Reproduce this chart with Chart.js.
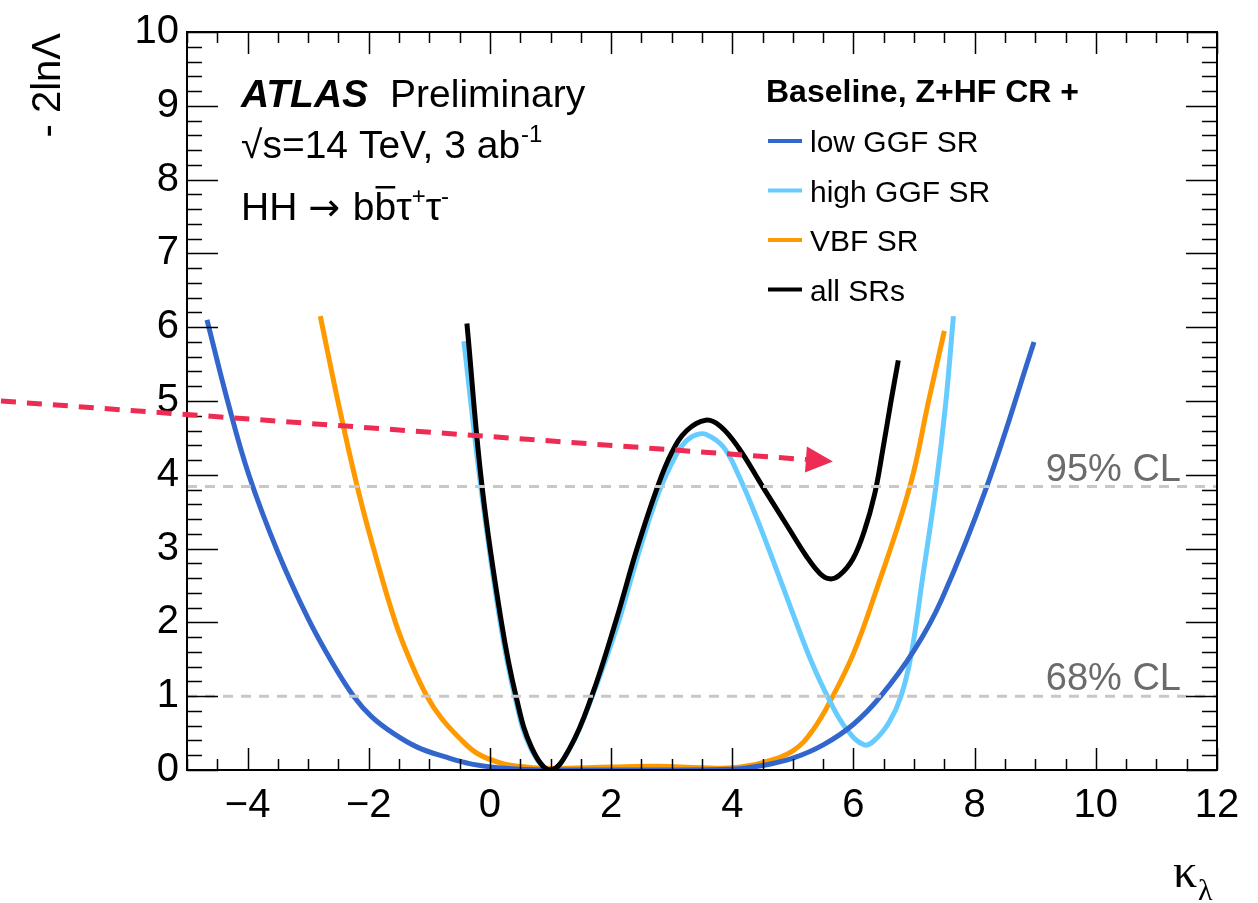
<!DOCTYPE html>
<html>
<head>
<meta charset="utf-8">
<script src="https://cdn.jsdelivr.net/npm/chart.js@4.4.0/dist/chart.umd.min.js"></script>
<style>
  html, body { margin: 0; padding: 0; background: #fff; }
  #wrap { width: 1258px; height: 903px; }
</style>
</head>
<body>
<div id="wrap"><canvas id="nllChart" width="1258" height="903"></canvas></div>
<script>
// kappa_lambda scan, -2 ln Lambda
const lowGgfK   = [-4.67, -4.33, -3.98, -3.5, -3.0, -2.6, -2.25, -1.95, -1.6, -1.2, -0.75, -0.3, 0.3, 1, 2, 3, 4, 4.5, 5, 5.5, 6.0, 6.45, 7.0, 7.45, 8.2, 8.98];
const lowGgfNll = [6.1, 5.0, 4.0, 2.95, 2.05, 1.45, 1.0, 0.72, 0.5, 0.31, 0.18, 0.08, 0.02, 0, 0, 0, 0.01, 0.06, 0.16, 0.34, 0.62, 1.0, 1.62, 2.3, 3.84, 5.8];

const highGgfK   = [-0.43, -0.15, 0.17, 0.41, 0.67, 1.0, 1.32, 1.69, 2.1, 2.44, 2.78, 3.08, 3.24, 3.4, 3.56, 3.85, 4.1, 4.4, 4.7, 5.0, 5.3, 5.6, 5.88, 6.18, 6.37, 6.59, 6.78, 6.95, 7.14, 7.36, 7.52, 7.65];
const highGgfNll = [5.81, 3.84, 2.0, 1.0, 0.3, 0, 0.3, 1.0, 1.95, 2.9, 3.75, 4.28, 4.46, 4.54, 4.55, 4.38, 4.0, 3.42, 2.78, 2.12, 1.48, 0.95, 0.56, 0.34, 0.42, 0.65, 0.99, 1.55, 2.6, 3.84, 4.95, 6.15];

const vbfK   = [-2.8, -2.51, -2.19, -1.92, -1.56, -1.3, -1.04, -0.8, -0.5, -0.2, 0.2, 0.6, 1, 2, 2.75, 3.5, 4, 4.5, 5, 5.33, 5.66, 6.0, 6.32, 6.93, 7.24, 7.5];
const vbfNll = [6.15, 5.0, 3.84, 3.0, 2.0, 1.45, 1.0, 0.7, 0.43, 0.22, 0.09, 0.04, 0.02, 0.04, 0.05, 0.03, 0.03, 0.1, 0.26, 0.54, 1.0, 1.58, 2.3, 3.84, 5.0, 5.95];

const allK   = [-0.38, -0.13, 0.19, 0.43, 0.69, 1.0, 1.32, 1.68, 2.09, 2.42, 2.75, 3.0, 3.25, 3.56, 3.8, 4.1, 4.5, 4.89, 5.22, 5.45, 5.61, 5.77, 5.99, 6.18, 6.35, 6.48, 6.62, 6.74];
const allNll = [6.05, 3.84, 2.0, 1.0, 0.3, 0, 0.3, 1.0, 2.05, 2.98, 3.8, 4.3, 4.6, 4.74, 4.66, 4.37, 3.84, 3.33, 2.9, 2.66, 2.59, 2.64, 2.86, 3.24, 3.74, 4.32, 5.0, 5.55];

const clLevels = [1, 3.84];
const clLabels = ['68% CL', '95% CL'];

const xTicks = [-4, -2, 0, 2, 4, 6, 8, 10, 12];
const yTicks = [0, 1, 2, 3, 4, 5, 6, 7, 8, 9, 10];

// red arrow in (kappa, -2lnL) units: start, tip
const arrowFrom = [-8.07, 5.0];
const arrowTo = [5.66, 4.18];

const SANS = '"Liberation Sans", Arial, Helvetica, sans-serif';
const SERIF = '"Liberation Serif", "DejaVu Serif", serif';

function pts(ks, vs) {
    return ks.map((k, i) => ({ x: k, y: vs[i] }));
}

function curve(label, ks, vs, color, order) {
    return {
        label: label,
        data: pts(ks, vs),
        borderColor: color,
        backgroundColor: color,
        borderWidth: 5,
        pointRadius: 0,
        fill: false,
        tension: 0.4,
        order: order
    };
}

const clSets = clLevels.map(lv => ({
    label: 'cl' + lv,
    data: [{ x: -5, y: lv }, { x: 12, y: lv }],
    borderColor: '#c8c8c8',
    borderWidth: 3,
    borderDash: [10, 8],
    pointRadius: 0,
    fill: false,
    order: 0,
    isCl: true
}));

// draws text pieces left to right, returns end x
function run(ctx, parts, x, y) {
    parts.forEach(p => {
        ctx.font = p.font;
        const dy = p.dy || 0;
        ctx.fillText(p.t, x, y + dy);
        const w = ctx.measureText(p.t).width;
        if (p.bar) {
            ctx.fillRect(x + 1, y - 34, w - 2, 2.5);
        }
        x += w + (p.gap || 0);
    });
    return x;
}

const atlasFrame = {
    id: 'atlasFrame',
    afterDatasetsDraw(chart) {
        const { ctx, chartArea: a, scales: { x, y } } = chart;
        ctx.save();

        // CL labels
        ctx.fillStyle = '#6b6b6b';
        ctx.font = '38px ' + SANS;
        ctx.textAlign = 'right';
        ctx.textBaseline = 'alphabetic';
        clLevels.forEach((lv, i) => {
            ctx.fillText(clLabels[i], 1181, y.getPixelForValue(lv) - 6);
        });

        // frame + inward ticks on all four sides
        ctx.strokeStyle = '#000';
        ctx.lineWidth = 2;
        ctx.strokeRect(a.left, a.top, a.right - a.left, a.bottom - a.top);
        ctx.lineWidth = 1.5;
        ctx.beginPath();
        for (let i = 0; i <= 34; i++) {
            const v = -5 + i * 0.5;
            const px = Math.round(x.getPixelForValue(v)) + 0.5;
            const len = (v % 2 === 0) ? 22 : 11;
            ctx.moveTo(px, a.bottom); ctx.lineTo(px, a.bottom - len);
            ctx.moveTo(px, a.top); ctx.lineTo(px, a.top + len);
        }
        for (let i = 0; i <= 50; i++) {
            const v = i * 0.2;
            const py = Math.round(y.getPixelForValue(v)) + 0.5;
            const len = (i % 5 === 0) ? 31 : 15;
            ctx.moveTo(a.left, py); ctx.lineTo(a.left + len, py);
            ctx.moveTo(a.right, py); ctx.lineTo(a.right - len, py);
        }
        ctx.stroke();

        // axis titles
        ctx.fillStyle = '#000';
        ctx.save();
        ctx.translate(60, a.top + 1);
        ctx.rotate(-Math.PI / 2);
        ctx.textAlign = 'right';
        ctx.font = '40px ' + SANS;
        ctx.fillText('- 2ln\u039B', 0, 0);
        ctx.restore();

        ctx.textAlign = 'left';
        ctx.font = '48px ' + SERIF;
        ctx.fillText('\u03BA', 1173, 887);
        ctx.font = '30px ' + SERIF;
        ctx.fillText('\u03BB', 1198, 900);

        // ATLAS label
        const f38 = '39px ' + SANS;
        const f24 = '24px ' + SANS;
        run(ctx, [
            { t: 'ATLAS', font: 'italic bold 39px ' + SANS, gap: 22 },
            { t: 'Preliminary', font: f38 }
        ], 241, 107);
        run(ctx, [
            { t: '\u221As=14 TeV, 3 ab', font: f38, gap: 1 },
            { t: '-1', font: f24, dy: -16 }
        ], 241, 158);
        run(ctx, [
            { t: 'HH ', font: f38 },
            { t: '\u2192', font: '38px "DejaVu Sans", sans-serif', gap: 2 },
            { t: ' b', font: f38 },
            { t: 'b', font: f38, bar: true },
            { t: '\u03C4', font: f38 },
            { t: '+', font: f24, dy: -16 },
            { t: '\u03C4', font: f38 },
            { t: '-', font: f24, dy: -16 }
        ], 241, 220);

        // legend
        ctx.font = 'bold 32px ' + SANS;
        ctx.fillText('Baseline, Z+HF CR +', 766, 102);
        ctx.font = '30px ' + SANS;
        const shown = chart.data.datasets.filter(d => !d.isCl);
        shown.forEach((d, i) => {
            const ly = 141 + i * 49.5;
            ctx.strokeStyle = d.borderColor;
            ctx.lineWidth = 4;
            ctx.beginPath();
            ctx.moveTo(768, ly);
            ctx.lineTo(802, ly);
            ctx.stroke();
            ctx.fillStyle = '#000';
            ctx.fillText(d.label, 810, ly + 11);
        });

        // red dashed arrow
        const x0 = x.getPixelForValue(arrowFrom[0]), y0 = y.getPixelForValue(arrowFrom[1]);
        const x1 = x.getPixelForValue(arrowTo[0]), y1 = y.getPixelForValue(arrowTo[1]);
        const ang = Math.atan2(y1 - y0, x1 - x0);
        const head = 27, half = 13;
        const bx = x1 - head * Math.cos(ang), by = y1 - head * Math.sin(ang);
        ctx.strokeStyle = '#ee2b52';
        ctx.fillStyle = '#ee2b52';
        ctx.lineWidth = 5;
        ctx.setLineDash([15, 11]);
        ctx.beginPath();
        ctx.moveTo(x0, y0);
        ctx.lineTo(bx, by);
        ctx.stroke();
        ctx.setLineDash([]);
        ctx.beginPath();
        ctx.moveTo(x1, y1);
        ctx.lineTo(bx - half * Math.sin(ang), by + half * Math.cos(ang));
        ctx.lineTo(bx + half * Math.sin(ang), by - half * Math.cos(ang));
        ctx.closePath();
        ctx.fill();

        ctx.restore();
    }
};

const ctx = document.getElementById('nllChart');

new Chart(ctx, {
    type: 'line',
    data: {
        datasets: [
            curve('low GGF SR', lowGgfK, lowGgfNll, '#3366cc', 2),
            curve('high GGF SR', highGgfK, highGgfNll, '#66ccff', 3),
            curve('VBF SR', vbfK, vbfNll, '#ff9900', 4),
            curve('all SRs', allK, allNll, '#000000', 1)
        ].concat(clSets)
    },
    options: {
        responsive: false,
        animation: false,
        devicePixelRatio: 1,
        layout: {
            padding: { left: 0, top: 30, right: 41, bottom: 0 }
        },
        plugins: {
            legend: { display: false },
            tooltip: { enabled: false }
        },
        scales: {
            x: {
                type: 'linear',
                min: -5,
                max: 12,
                grid: { display: false, drawTicks: false },
                border: { display: false },
                afterBuildTicks: s => { s.ticks = xTicks.map(v => ({ value: v })); },
                afterFit: s => { s.height = 133; },
                ticks: {
                    color: '#000',
                    padding: 12,
                    maxRotation: 0,
                    font: { family: SANS, size: 40 },
                    callback: v => (v < 0 ? '\u2212' + (-v) : '' + v)
                }
            },
            y: {
                type: 'linear',
                min: 0,
                max: 10,
                grid: { display: false, drawTicks: false },
                border: { display: false },
                afterBuildTicks: s => { s.ticks = yTicks.map(v => ({ value: v })); },
                afterFit: s => { s.width = 187; },
                ticks: {
                    color: '#000',
                    padding: 8,
                    font: { family: SANS, size: 40 },
                    callback: v => '' + v
                }
            }
        }
    },
    plugins: [atlasFrame]
});
</script>
</body>
</html>
